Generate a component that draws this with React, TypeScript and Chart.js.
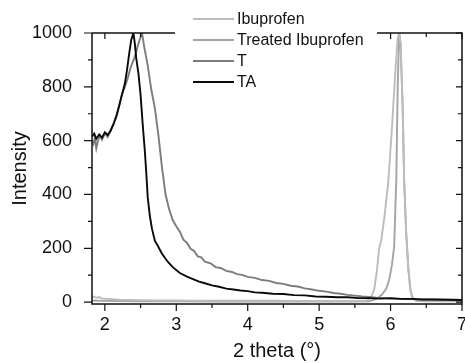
import React, { useEffect, useRef } from "react";
import { Chart, registerables } from "chart.js";

Chart.register(...registerables);

// ---- data ----
const ibuX = [1.82, 1.85, 1.88, 1.92, 1.96, 2.0, 2.1, 2.2, 2.35, 2.5, 2.7, 3.0, 3.3, 3.6, 4.0, 4.4, 4.8, 5.2, 5.5, 5.65, 5.72, 5.77, 5.81, 5.84, 5.87, 5.92, 5.97, 6.02, 6.07, 6.1, 6.12, 6.14, 6.17, 6.19, 6.22, 6.25, 6.28, 6.31, 6.36, 6.5, 6.8, 7.0];
const ibuY = [18, 21, 16, 19, 14, 13, 11, 9, 8, 7, 6, 6, 5, 5, 5, 5, 4, 4, 4, 5, 15, 45, 120, 200, 230, 330, 453, 650, 870, 980, 1000, 960, 720, 453, 250, 120, 40, 15, 6, 5, 4, 4];

const treatedX = [1.82, 1.9, 2.0, 2.2, 2.5, 3.0, 3.5, 4.0, 4.5, 5.0, 5.5, 5.7, 5.8, 5.88, 5.94, 5.98, 6.02, 6.05, 6.08, 6.1, 6.12, 6.14, 6.17, 6.19, 6.22, 6.25, 6.28, 6.31, 6.36, 6.5, 6.8, 7.0];
const treatedY = [6, 5, 5, 4, 3, 3, 2, 2, 2, 2, 2, 3, 12, 28, 50, 82, 140, 205, 453, 800, 1000, 960, 720, 453, 250, 120, 40, 15, 5, 3, 3, 3];

const tX = [1.82, 1.84, 1.86, 1.88, 1.9, 1.93, 1.96, 2.0, 2.04, 2.08, 2.12, 2.16, 2.2, 2.24, 2.28, 2.32, 2.35, 2.38, 2.42, 2.46, 2.5, 2.52, 2.55, 2.6, 2.65, 2.7, 2.75, 2.8, 2.85, 2.9, 2.95, 3.0, 3.05, 3.1, 3.15, 3.2, 3.25, 3.3, 3.35, 3.4, 3.48, 3.55, 3.62, 3.7, 3.78, 3.85, 3.92, 4.0, 4.1, 4.2, 4.3, 4.4, 4.5, 4.6, 4.7, 4.8, 4.9, 5.0, 5.1, 5.2, 5.3, 5.4, 5.5, 5.6, 5.7, 5.8, 6.0, 6.2, 6.5, 6.8, 7.0];
const tY = [600, 588, 612, 572, 596, 620, 603, 626, 614, 640, 662, 690, 728, 772, 800, 832, 862, 885, 912, 952, 985, 1000, 950, 880, 790, 721, 620, 500, 400, 345, 305, 282, 262, 232, 220, 198, 190, 170, 166, 150, 144, 130, 127, 116, 112, 104, 101, 94, 90, 82, 79, 71, 68, 61, 58, 51, 47, 42, 39, 34, 31, 27, 24, 21, 19, 16, 13, 11, 10, 9, 8];

const taX = [1.82, 1.85, 1.88, 1.92, 1.96, 2.0, 2.04, 2.08, 2.12, 2.16, 2.2, 2.24, 2.28, 2.31, 2.34, 2.37, 2.4, 2.42, 2.44, 2.47, 2.5, 2.53, 2.56, 2.58, 2.6, 2.63, 2.66, 2.7, 2.75, 2.8, 2.88, 2.95, 3.05, 3.15, 3.25, 3.32, 3.4, 3.5, 3.6, 3.7, 3.8, 3.9, 4.0, 4.1, 4.2, 4.35, 4.5, 4.65, 4.8, 4.95, 5.1, 5.25, 5.4, 5.55, 5.7, 5.85, 6.0, 6.15, 6.3, 6.45, 6.6, 6.8, 7.0];
const taY = [615, 626, 607, 623, 611, 631, 621, 636, 660, 690, 730, 772, 812, 862, 922, 975, 1000, 960, 905, 850, 770, 660, 560, 480, 390, 320, 272, 228, 205, 180, 150, 130, 108, 95, 84, 76, 70, 62, 57, 50, 47, 43, 41, 36, 35, 31, 30, 26, 25, 21, 20, 18, 18, 15, 15, 13, 15, 12, 12, 10, 10, 9, 8];

const seriesNames = ["Ibuprofen", "Treated Ibuprofen", "T", "TA"];
const seriesColors = ["#bcbcbc", "#a4a4a4", "#7c7c7c", "#0a0a0a"];

const xTicks = [2, 3, 4, 5, 6, 7];
const yTicks = [0, 200, 400, 600, 800, 1000];
const xMinorStep = 0.5;
const yMinorStep = 100;

const FONT = "'Liberation Sans', Arial, Helvetica, sans-serif";

function pts(xs: number[], ys: number[]) {
  return xs.map((x, i) => ({ x, y: ys[i] }));
}

const framePlugin = {
  id: "frameAndLegend",
  afterDatasetsDraw(chart: any) {
    const { ctx, chartArea: a, scales } = chart;
    const xs = scales.x;
    const ys = scales.y;
    ctx.save();
    ctx.strokeStyle = "#111";
    ctx.lineWidth = 1.5;
    ctx.beginPath();
    ctx.moveTo(a.left, a.top);
    ctx.lineTo(a.left, a.bottom);
    ctx.lineTo(a.right, a.bottom);
    ctx.lineTo(a.right, a.top);
    ctx.lineTo(a.left, a.top);
    ctx.stroke();
    ctx.lineWidth = 1.2;
    ctx.beginPath();
    for (let v = 2; v <= xs.max + 1e-6; v += xMinorStep) {
      const px = xs.getPixelForValue(v);
      const major = Math.abs(v - Math.round(v)) < 1e-6;
      ctx.moveTo(px, a.bottom);
      ctx.lineTo(px, a.bottom + (major ? 7 : 4));
      ctx.moveTo(px, a.top);
      ctx.lineTo(px, a.top + (major ? 6 : 4));
    }
    for (let v = 0; v <= 1000; v += yMinorStep) {
      const py = ys.getPixelForValue(v);
      const major = v % 200 === 0;
      ctx.moveTo(a.left, py);
      ctx.lineTo(a.left - (major ? 8 : 4), py);
      ctx.moveTo(a.right, py);
      ctx.lineTo(a.right - (major ? 6 : 4), py);
    }
    ctx.stroke();

    // legend box
    ctx.fillStyle = "#ffffff";
    ctx.fillRect(175, 4, 202, 90);
    const rows = [19, 40, 61, 82];
    ctx.font = `16px ${FONT}`;
    ctx.textBaseline = "middle";
    ctx.textAlign = "left";
    seriesNames.forEach((name, i) => {
      ctx.strokeStyle = seriesColors[i];
      ctx.lineWidth = 2;
      ctx.beginPath();
      ctx.moveTo(193, rows[i]);
      ctx.lineTo(234, rows[i]);
      ctx.stroke();
      ctx.fillStyle = "#111";
      ctx.fillText(name, 237, rows[i] + 1);
    });
    ctx.restore();
  },
};

export default function App() {
  const ref = useRef<HTMLCanvasElement | null>(null);
  useEffect(() => {
    if (!ref.current) return;
    const data = [pts(ibuX, ibuY), pts(treatedX, treatedY), pts(tX, tY), pts(taX, taY)];
    const orders = [2, 3, 1, 0];
    const chart = new Chart(ref.current, {
      type: "scatter",
      data: {
        datasets: data.map((d, i) => ({
          label: seriesNames[i],
          data: d,
          showLine: true,
          borderColor: seriesColors[i],
          backgroundColor: seriesColors[i],
          borderWidth: 1.9,
          pointRadius: 0,
          tension: 0,
          order: orders[i],
        })),
      },
      options: {
        animation: false,
        responsive: false,
        devicePixelRatio: 1,
        layout: { padding: { top: 33, right: 3, left: 0, bottom: 0 } },
        plugins: { legend: { display: false }, tooltip: { enabled: false } },
        scales: {
          x: {
            type: "linear",
            min: 1.82,
            max: 7,
            grid: { display: false },
            border: { display: false },
            afterBuildTicks: (s: any) => {
              s.ticks = xTicks.map((v) => ({ value: v }));
            },
            afterFit: (s: any) => {
              s.height = 59;
              s.paddingLeft = 0;
              s.paddingRight = 0;
            },
            ticks: {
              color: "#111",
              font: { family: FONT, size: 18 },
              padding: 2,
              maxRotation: 0,
              autoSkip: false,
              callback: (v: any) => String(v),
            },
            title: {
              display: true,
              text: "2 theta (°)",
              color: "#111",
              font: { family: FONT, size: 20 },
              padding: { top: 0, bottom: 0 },
            },
          },
          y: {
            type: "linear",
            min: -7,
            max: 1000,
            grid: { display: false },
            border: { display: false },
            afterBuildTicks: (s: any) => {
              s.ticks = yTicks.map((v) => ({ value: v }));
            },
            afterFit: (s: any) => {
              s.width = 92;
              s.paddingTop = 0;
              s.paddingBottom = 0;
            },
            ticks: {
              color: "#111",
              font: { family: FONT, size: 18 },
              padding: 12,
              autoSkip: false,
              callback: (v: any) => String(v),
            },
            title: {
              display: true,
              text: "Intensity",
              color: "#111",
              font: { family: FONT, size: 20 },
              padding: { top: 8, bottom: 0 },
            },
          },
        },
      },
      plugins: [framePlugin],
    });
    return () => chart.destroy();
  }, []);
  return (
    <div style={{ position: "absolute", left: 0, top: 0, width: 465, height: 363, background: "#fff" }}>
      <canvas ref={ref} width={465} height={363} />
    </div>
  );
}
